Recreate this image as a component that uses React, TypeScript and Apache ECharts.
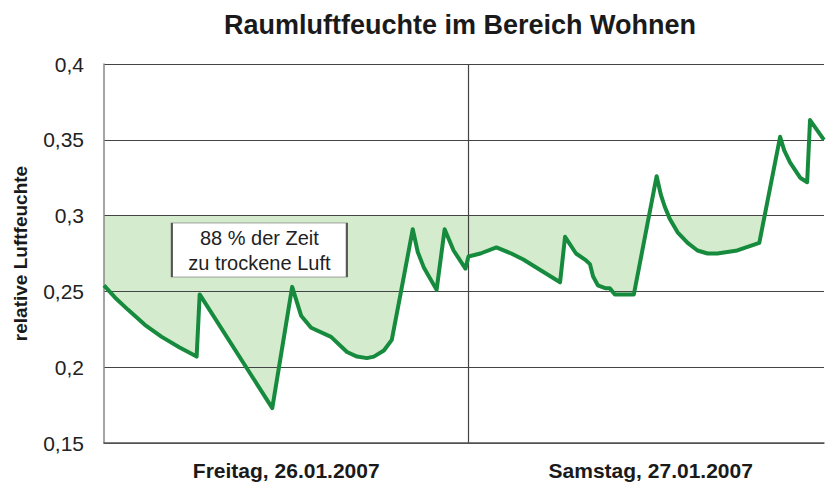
import React, { useEffect, useRef } from "react";
import * as echarts from "echarts";

const titleText = "Raumluftfeuchte im Bereich Wohnen";
const yAxisName = "relative Luftfeuchte";
const dayLabels = ["Freitag, 26.01.2007", "Samstag, 27.01.2007"];
const dayLabelHours = [12, 36];
const threshold = 0.3;
const annotationLines = ["88 % der Zeit", "zu trockene Luft"];
const annotationAnchor = [10.23, 0.2773];

// hours since Friday 00:00
const hours = [
  0, 0.72, 1.57, 2.69, 3.8, 4.98, 6.1, 6.3, 11.08, 12.39, 12.98, 13.64, 14.95, 16.0,
  16.66, 17.31, 17.77, 18.43, 18.95, 19.54, 20.33, 20.66, 21.05, 21.9, 22.43, 23.02,
  23.8, 24.0, 24.79, 25.84, 26.82, 27.61, 30.03, 30.36, 31.08, 31.67, 32.0, 32.2,
  32.52, 33.05, 33.31, 33.64, 34.89, 36.39, 36.66, 36.92, 37.25, 37.77, 38.43, 39.08,
  39.74, 40.39, 41.7, 43.15, 44.52, 44.79, 45.18, 45.84, 46.3, 46.49, 47.41,
];
const humidity = [
  0.254, 0.246, 0.238, 0.228, 0.22, 0.213, 0.207, 0.248, 0.173, 0.253, 0.234, 0.226,
  0.22, 0.21, 0.207, 0.206, 0.207, 0.211, 0.218, 0.249, 0.291, 0.276, 0.266, 0.251,
  0.291, 0.277, 0.265, 0.273, 0.275, 0.279, 0.275, 0.271, 0.256, 0.286, 0.275, 0.271,
  0.268, 0.26, 0.254, 0.252, 0.252, 0.248, 0.248, 0.326, 0.314, 0.306, 0.298, 0.289,
  0.282, 0.277, 0.275, 0.275, 0.277, 0.282, 0.352, 0.343, 0.335, 0.325, 0.322, 0.363,
  0.35,
];

const xMax = 47.41;
const FONT = "'Liberation Sans', Arial, Helvetica, sans-serif";

function buildFill() {
  // outline of min(humidity, threshold), including the threshold crossings
  const base: number[][] = [];
  for (let i = 0; i < hours.length; i++) {
    const x = hours[i];
    const y = humidity[i];
    if (i > 0) {
      const x0 = hours[i - 1];
      const y0 = humidity[i - 1];
      if ((y0 - threshold) * (y - threshold) < 0) {
        const t = (threshold - y0) / (y - y0);
        base.push([x0 + t * (x - x0), threshold]);
      }
    }
    base.push([x, Math.min(y, threshold)]);
  }
  return base;
}

export default function App() {
  const ref = useRef<HTMLDivElement>(null);
  useEffect(() => {
    if (!ref.current) return;
    const chart = echarts.init(ref.current, undefined, { renderer: "svg" });
    const base = buildFill();
    chart.setOption({
      animation: false,
      title: {
        text: titleText,
        left: 455,
        textAlign: "center",
        top: 6,
        textStyle: { fontFamily: FONT, fontSize: 27, fontWeight: "bold", color: "#1a1a1a" },
      },
      grid: { left: 104, right: 0, top: 64, bottom: 41 },
      xAxis: [
        {
          type: "value",
          min: 0,
          max: xMax,
          interval: 24,
          axisLine: { show: true, lineStyle: { color: "#555", width: 1.5 } },
          axisTick: { show: false },
          axisLabel: { show: false },
          splitLine: { show: true, showMinLine: false, showMaxLine: false, lineStyle: { color: "#444", width: 1.2 } },
        },
        {
          type: "value",
          position: "bottom",
          min: 0,
          max: xMax,
          interval: 12,
          axisLine: { show: false },
          axisTick: { show: false },
          splitLine: { show: false },
          axisLabel: {
            show: true,
            margin: 17,
            fontFamily: FONT,
            fontSize: 21,
            fontWeight: "bold",
            color: "#1a1a1a",
            formatter: (v: number) => {
              const i = dayLabelHours.indexOf(v);
              return i >= 0 ? dayLabels[i] : "";
            },
          },
        },
      ],
      yAxis: {
        type: "value",
        min: 0.15,
        max: 0.4,
        interval: 0.05,
        name: yAxisName,
        nameLocation: "middle",
        nameGap: 74,
        nameTextStyle: { fontFamily: FONT, fontSize: 19, fontWeight: "bold", color: "#1a1a1a" },
        axisLine: { show: true, lineStyle: { color: "#888", width: 1.5 } },
        axisTick: { show: false },
        axisLabel: {
          margin: 20,
          fontFamily: FONT,
          fontSize: 21,
          color: "#222",
          formatter: (v: number) => String(+v.toFixed(2)).replace(".", ","),
        },
        splitLine: { show: true, lineStyle: { color: "#444", width: 1.2 } },
      },
      series: [
        {
          type: "custom",
          data: base,
          silent: true,
          z: -1,
          renderItem: (params: any, api: any) => {
            if (params.dataIndex !== 0) return null;
            const pts = base.map((p) => api.coord(p));
            pts.push(api.coord([base[base.length - 1][0], threshold]));
            pts.push(api.coord([base[0][0], threshold]));
            return {
              type: "polygon",
              shape: { points: pts },
              style: { fill: "#d5ebce", stroke: null },
            };
          },
        },
        {
          type: "line",
          data: hours.map((h, i) => [h, humidity[i]]),
          symbol: "none",
          lineStyle: { color: "#168b3e", width: 4, join: "round" },
          z: 3,
          markPoint: {
            symbol: "rect",
            symbolSize: [175, 54],
            silent: true,
            itemStyle: { color: "#ffffff", borderColor: "#555", borderWidth: 1.2 },
            label: {
              show: true,
              position: "inside",
              fontFamily: FONT,
              fontSize: 20,
              lineHeight: 25,
              color: "#222",
              formatter: annotationLines.join("\n"),
            },
            data: [{ coord: annotationAnchor }],
          },
        },
      ],
    });
    return () => chart.dispose();
  }, []);
  return (
    <div
      ref={ref}
      style={{ position: "fixed", left: 0, top: 0, width: 827, height: 484, background: "#ffffff" }}
    />
  );
}
